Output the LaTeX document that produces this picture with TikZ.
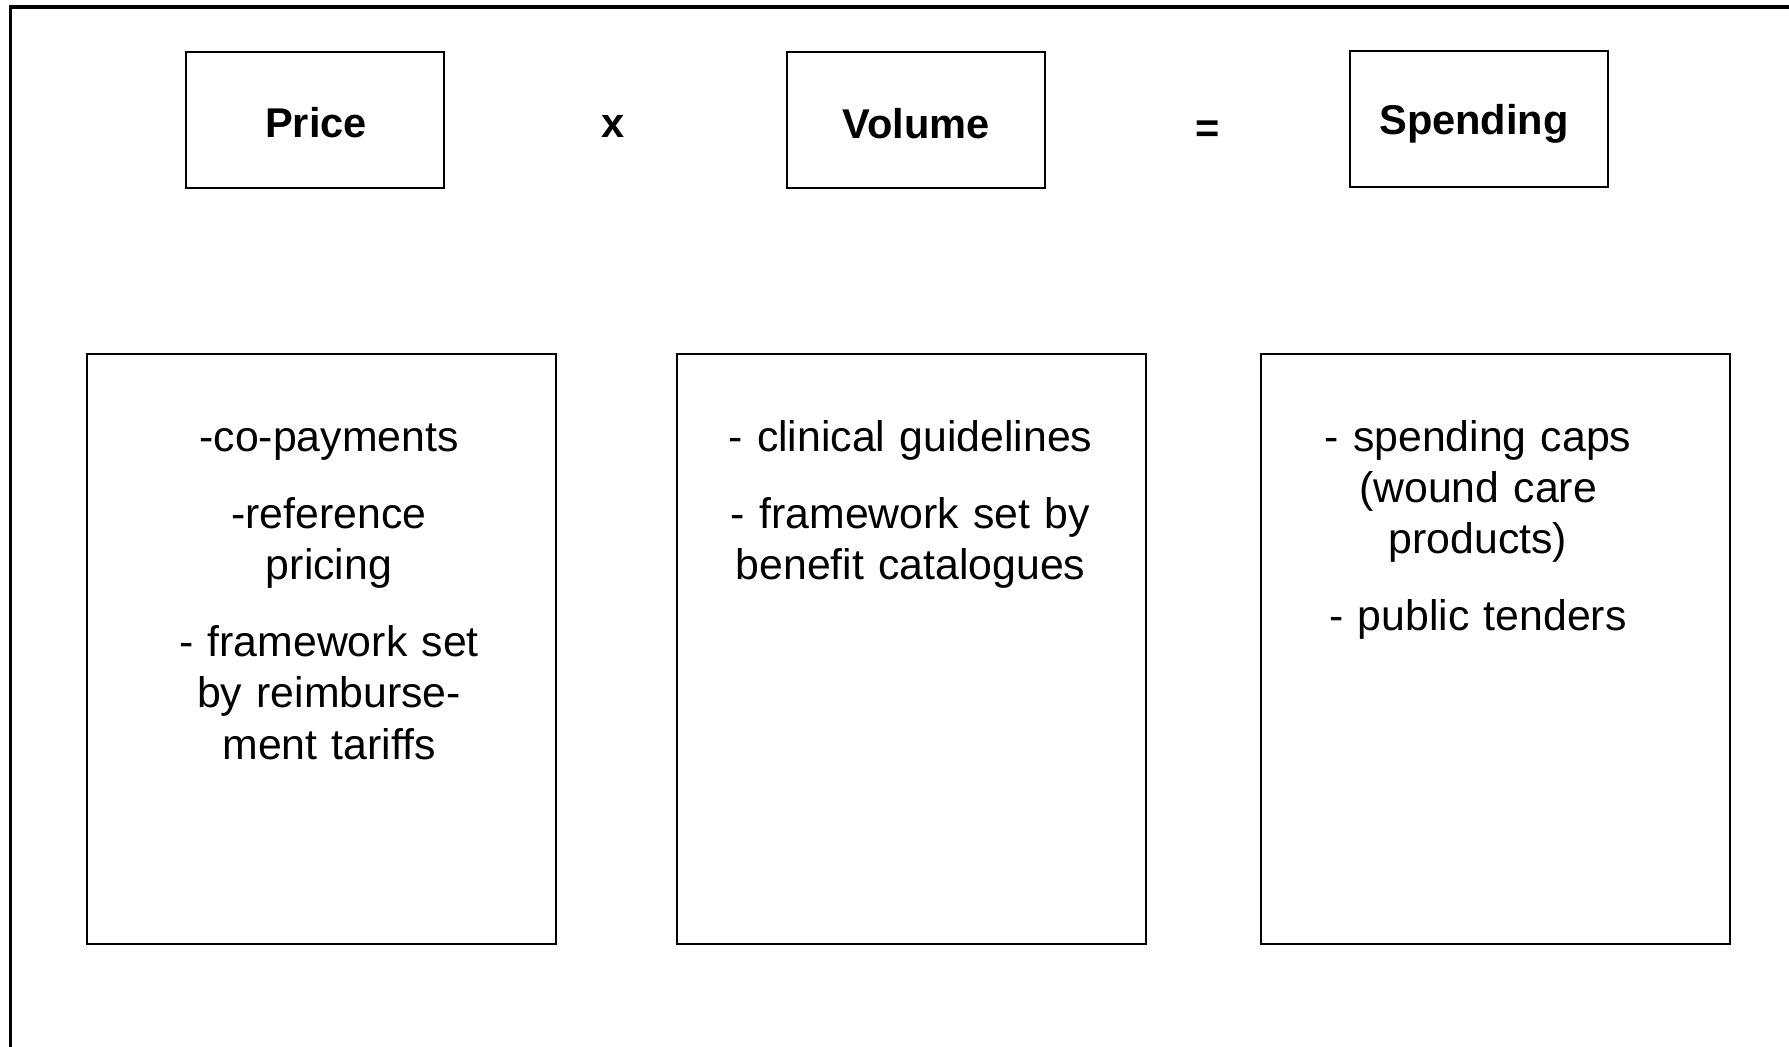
\documentclass[tikz,border=0pt]{standalone}
\usepackage{fontspec}
\setmainfont{Liberation Sans}
\begin{document}
\begin{tikzpicture}[x=0.5pt,y=-0.5pt,
  titlebox/.style={draw=black,line width=1pt,minimum width=129pt,minimum height=68pt,inner sep=0pt},
  listbox/.style={draw=black,line width=1pt,minimum width=234.5pt,minimum height=295pt,inner sep=0pt},
  titletext/.style={anchor=base,inner sep=0pt,font=\fontsize{20.8}{25}\selectfont\bfseries},
  listtext/.style={anchor=base,inner sep=0pt,text width=230pt,align=center,font=\fontsize{21.4}{25.6}\selectfont}]
\useasboundingbox (0,0) rectangle (1789,1046);
\clip (0,0) rectangle (1789,1046);
\fill[white] (0,0) rectangle (1789,1046);
% outer frame (only top and left visible)
\draw[line width=1.6pt] (10.5,1100) -- (10.5,7) -- (1850,7);
% top boxes
\node[titlebox] (pricebox) at (315,120) {};
\node[titlebox] (volumebox) at (916,120) {};
\node[titlebox] (spendbox) at (1478.5,119) {};
\node[titletext] (pricet) at (316,137) {Price};
\node[titletext] (volumet) at (916,138.5) {Volume};
\node[titletext] (spendt) at (1474,134.5) {Spending};
\node[titletext] (times) at (613,137) {x};
\node[titletext] (equals) at (1208,142) {=};
% bottom boxes
\node[listbox] (pricelist) at (321.5,649) {};
\node[listbox] (volumelist) at (911,649) {};
\node[listbox] (spendlist) at (1495,649) {};
\node[listtext] (pricelt) at (329,451) {-co-payments\\[13pt]-reference\\pricing\\[13pt]- framework set\\by reimburse-\\ment tariffs};
\node[listtext] (volumelt) at (910.5,451) {- clinical guidelines\\[13pt]- framework set by\\benefit catalogues};
\node[listtext] (spendlt) at (1478,451) {- spending caps\\(wound care\\products)\\[13pt]- public tenders};
\end{tikzpicture}
\end{document}
